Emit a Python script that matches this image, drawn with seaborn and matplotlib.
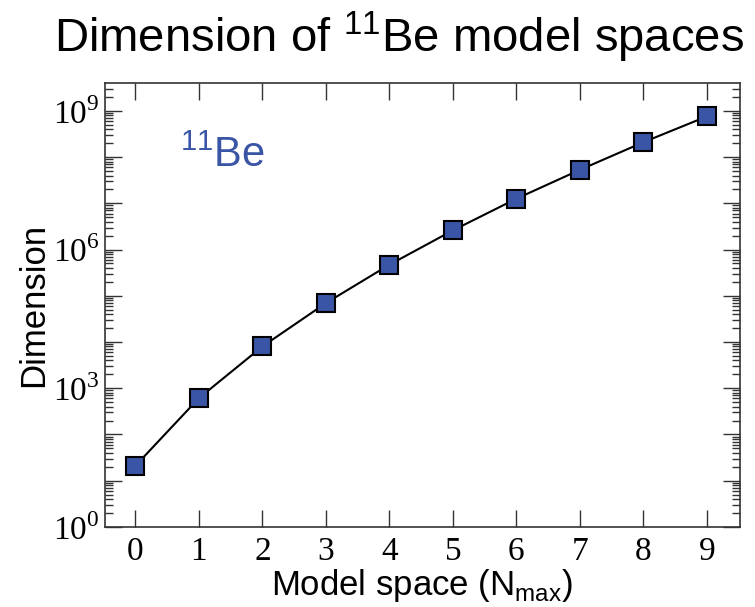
import numpy as np
import pandas as pd
import matplotlib
matplotlib.use("Agg")
import matplotlib.pyplot as plt
import seaborn as sns
from matplotlib.ticker import FixedLocator, FuncFormatter, LogLocator, NullFormatter

# Many-body basis dimension of 11Be versus the oscillator truncation Nmax
nmax = [0, 1, 2, 3, 4, 5, 6, 7, 8, 9]
dimension = [21, 610, 8.0e3, 6.95e4, 4.7e5, 2.6e6, 1.26e7, 5.3e7, 2.1e8, 7.6e8]
labelled_decades = [0, 3, 6, 9]

sns.set_style("ticks")
plt.rcParams["font.family"] = ["Liberation Sans", "DejaVu Sans"]
plt.rcParams["mathtext.fontset"] = "custom"
plt.rcParams["mathtext.rm"] = "Liberation Serif"
plt.rcParams["mathtext.sf"] = "Liberation Sans"
plt.rcParams["text.color"] = "black"
plt.rcParams["axes.labelcolor"] = "black"

blue = "#3a55a5"
frame = "#333333"

fig = plt.figure(figsize=(7.55, 6.07), dpi=100)
ax = fig.add_axes([0.139, 0.132, 0.841, 0.731])

df = pd.DataFrame({"nmax": nmax, "dimension": dimension})
sns.lineplot(data=df, x="nmax", y="dimension", ax=ax, color="black",
             linewidth=1.5, marker="s", markersize=13.5,
             markerfacecolor=blue, markeredgecolor="black",
             markeredgewidth=1.5)

ax.set_yscale("log")
ax.set_xlim(-0.48, 9.52)
ax.set_ylim(1, 10 ** 9.6)

ax.xaxis.set_major_locator(FixedLocator(nmax))
ax.yaxis.set_major_locator(FixedLocator(10.0 ** np.arange(0, 10)))
ax.yaxis.set_major_formatter(FuncFormatter(
    lambda v, p: f"$10^{{{int(round(np.log10(v)))}}}$"
    if int(round(np.log10(v))) in labelled_decades else ""))
ax.yaxis.set_minor_locator(LogLocator(base=10, subs=np.arange(2, 10), numticks=30))
ax.yaxis.set_minor_formatter(NullFormatter())

ax.tick_params(which="both", direction="in", top=True, right=True,
               color=frame, labelcolor="black", width=1.0, labelsize=24,
               labelfontfamily="Liberation Serif")
ax.tick_params(which="major", length=12)
ax.tick_params(which="minor", length=6)
ax.tick_params(axis="x", which="major", pad=7)
ax.tick_params(axis="y", which="major", pad=4)
for side in ax.spines.values():
    side.set_color(frame)
    side.set_linewidth(1.2)

ax.set_xlabel(r"Model space (N$_{\mathsf{max}}$)", fontsize=25, labelpad=0)
ax.set_ylabel("Dimension", fontsize=25, labelpad=2)

ax.text(0.118, 0.811, r"$^{\mathsf{11}}$Be", transform=ax.transAxes,
        fontsize=30, color=blue, ha="left", va="baseline")

fig.text(399 / 755, 1 - 52 / 607, r"Dimension of $^{\mathsf{11}}$Be model spaces",
         fontsize=34, ha="center", va="baseline", color="black")

fig.savefig("out.png", dpi=100, facecolor="white")
